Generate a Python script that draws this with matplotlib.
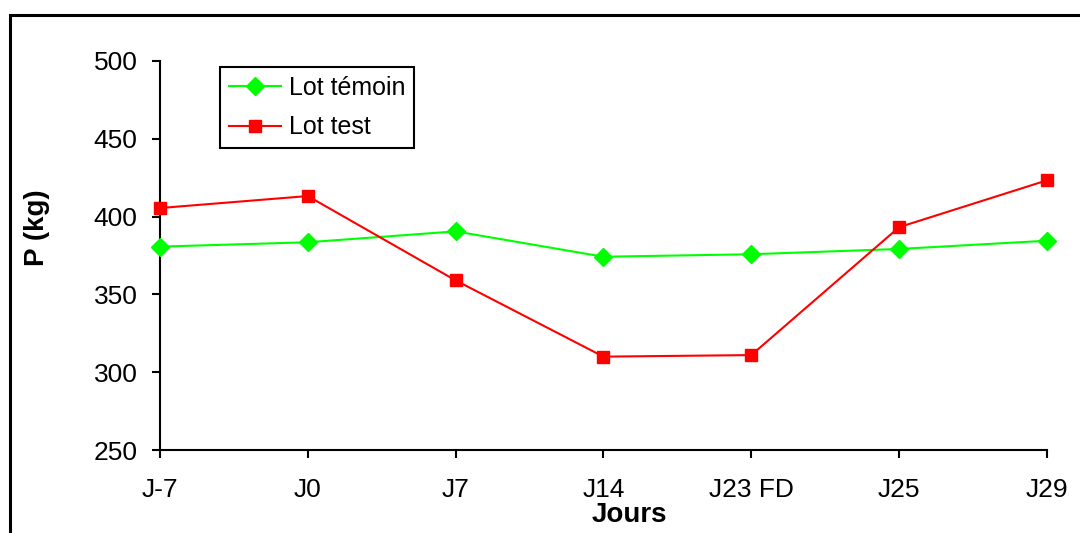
import matplotlib.pyplot as plt
from matplotlib.patches import Rectangle

plt.rcParams['font.family'] = ['Liberation Sans', 'DejaVu Sans']

# --- Données ---
jours = ['J-7', 'J0', 'J7', 'J14', 'J23 FD', 'J25', 'J29']
lot_temoin = [380.7, 383.5, 390.5, 374.2, 375.8, 379.2, 384.5]
lot_test = [405.5, 413.2, 359.0, 310.0, 311.0, 393.2, 423.3]

fig = plt.figure(figsize=(10.8, 5.33), dpi=100)
ax = fig.add_axes([0.1481, 0.1557, 0.9694 - 0.1481, 0.8856 - 0.1557])

x = range(len(jours))
ax.plot(x, lot_temoin, color='#00ff00', lw=1.5, marker='D', markersize=8.7,
        label='Lot témoin', clip_on=False, zorder=3)
ax.plot(x, lot_test, color='#ff0000', lw=1.5, marker='s', markersize=8.5,
        label='Lot test', clip_on=False, zorder=3)

ax.set_xlim(0, len(jours) - 1)
ax.set_ylim(250, 500)
ax.set_yticks([250, 300, 350, 400, 450, 500])
ax.set_xticks(list(x))
ax.set_xticklabels(jours)

for s in ['top', 'right']:
    ax.spines[s].set_visible(False)
for s in ['left', 'bottom']:
    ax.spines[s].set_linewidth(1.5)
ax.tick_params(axis='both', direction='out', length=6, width=1.5, labelsize=19)
ax.tick_params(axis='x', pad=14)
ax.tick_params(axis='y', pad=10)

fig.text(37 / 1080, 1 - 228 / 533, 'P (kg)', rotation=90, fontsize=20,
         fontweight='bold', ha='center', va='center')
fig.text(629 / 1080, 1 - 515 / 533, 'Jours', fontsize=20,
         fontweight='bold', ha='center', va='center')

leg = ax.legend(loc='upper left', bbox_to_anchor=(220 / 1080, 1 - 67 / 533),
                bbox_transform=fig.transFigure, borderaxespad=0, fontsize=18,
                fancybox=False, framealpha=1, edgecolor='black',
                handlelength=2.1, handletextpad=0.3, labelspacing=0.62,
                borderpad=0.35)
leg.get_frame().set_linewidth(1.5)

# cadre autour du graphique
fig.patches.append(Rectangle((10 / 1080, -0.1), 1.2, 1 - 15 / 533 + 0.1,
                             transform=fig.transFigure, fill=False,
                             edgecolor='black', lw=2.2, clip_on=False))

fig.savefig('out.png', dpi=100)
